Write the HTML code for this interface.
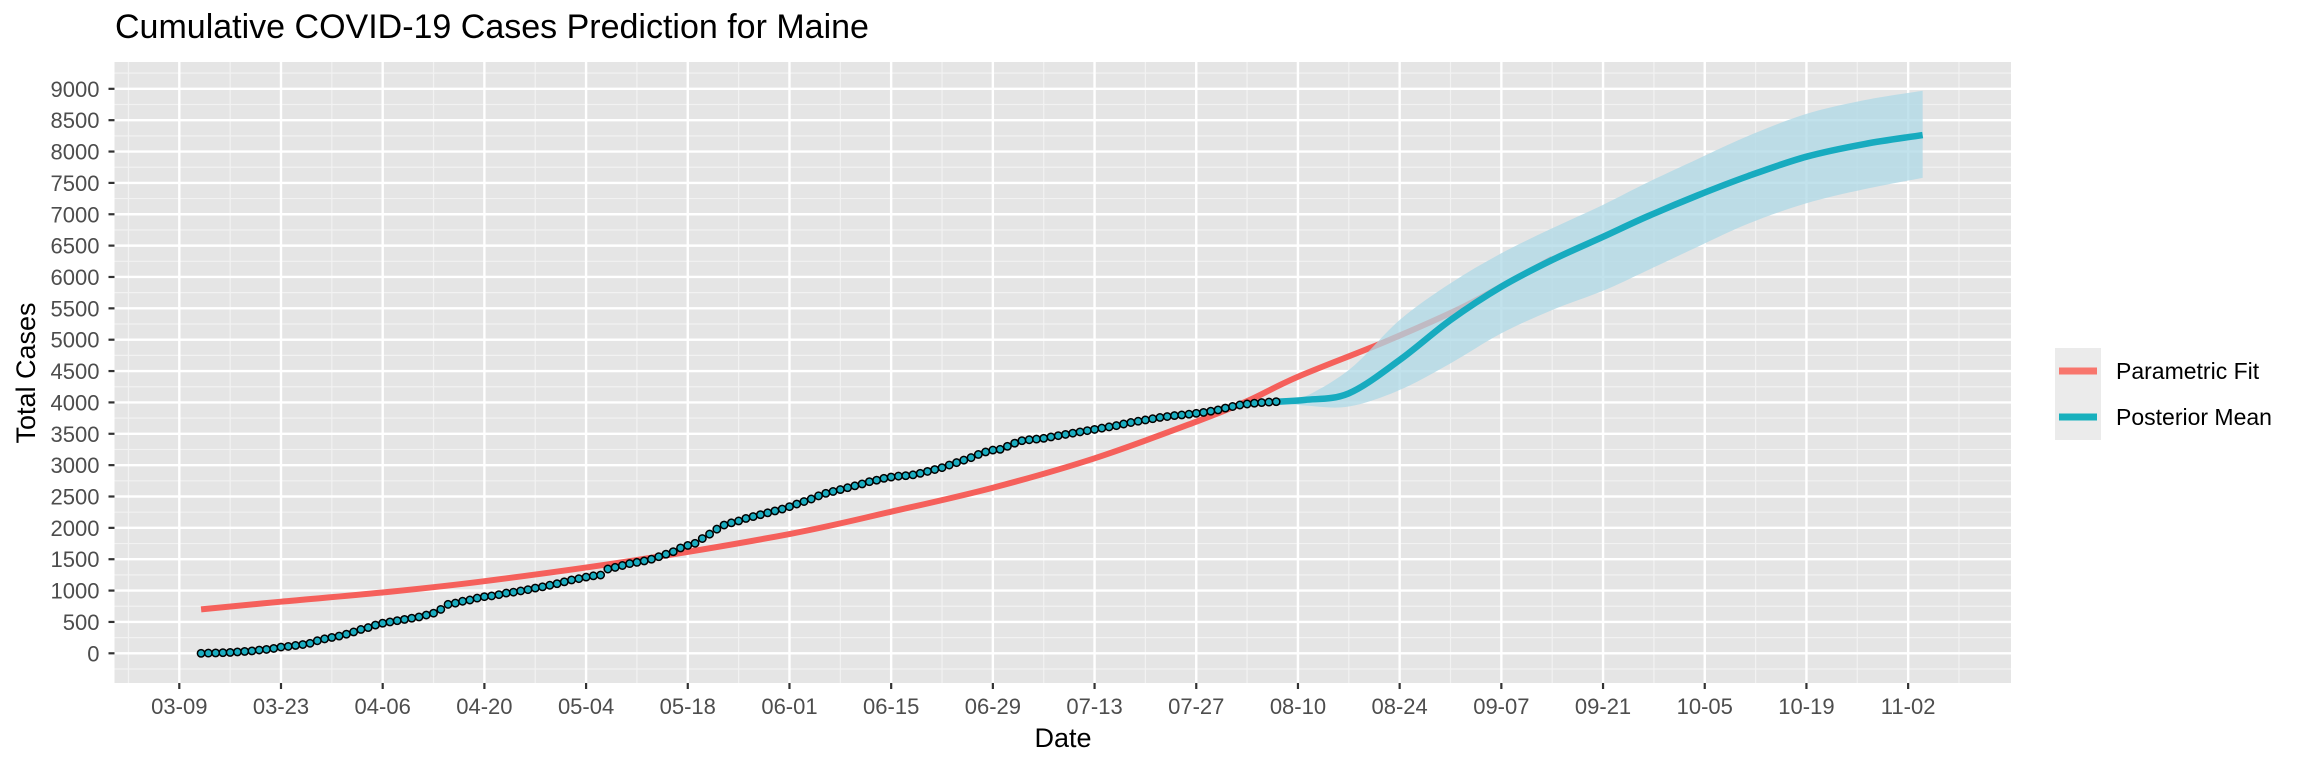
<!DOCTYPE html>
<html><head><meta charset="utf-8"><style>
html,body{margin:0;padding:0;background:#fff;}
svg{display:block;font-family:"Liberation Sans",Arial,sans-serif;}
</style></head><body>
<svg id="chart" width="2304" height="768" viewBox="0 0 2304 768" xmlns="http://www.w3.org/2000/svg">
<text x="115" y="38" font-size="34" fill="#000">Cumulative COVID-19 Cases Prediction for Maine</text>
<rect x="114.5" y="62" width="1896.5" height="621" fill="#e5e5e5"/>
<g id="grid"></g>
<g id="series"></g>
<g id="axes"></g>
<text x="1063" y="747" font-size="27" text-anchor="middle" fill="#000">Date</text>
<text transform="translate(35,373) rotate(-90)" font-size="27" text-anchor="middle" fill="#000">Total Cases</text>
<g>
<rect x="2055" y="348" width="46" height="92" fill="#ebebeb"/>
<line x1="2059" x2="2097" y1="371" y2="371" stroke="#F8766D" stroke-width="7"/>
<line x1="2059" x2="2097" y1="417" y2="417" stroke="#17b0bd" stroke-width="7"/>
<text x="2116" y="379" font-size="23" fill="#000">Parametric Fit</text>
<text x="2116" y="425" font-size="23" fill="#000">Posterior Mean</text>
</g>
</svg>
<script>
// Data (days since 03-09)
const xTickLabels = ["03-09","03-23","04-06","04-20","05-04","05-18","06-01","06-15","06-29","07-13","07-27","08-10","08-24","09-07","09-21","10-05","10-19","11-02"];
const yTickValues = [0,500,1000,1500,2000,2500,3000,3500,4000,4500,5000,5500,6000,6500,7000,7500,8000,8500,9000];
const obsStartDay = 3;
const observed = [0,3,6,10,14,22,30,38,52,62,78,100,
110,125,140,160,200,230,253,275,305,340,380,410,450,480,
500,520,540,560,580,610,640,700,780,800,830,850,880,903,
915,935,960,975,995,1015,1040,1060,1085,1110,1140,1170,1190,1215,
1235,1248,1344,1370,1400,1430,1450,1472,1500,1540,1580,1620,1680,1720,
1754,1830,1900,1980,2045,2080,2110,2150,2180,2210,2240,2270,2300,2338,
2380,2420,2460,2510,2551,2580,2610,2640,2670,2700,2736,2760,2790,2810,
2825,2832,2845,2870,2900,2930,2960,3002,3040,3080,3120,3170,3210,3240,
3252,3300,3350,3390,3405,3415,3428,3450,3470,3490,3510,3530,3550,3570,
3590,3610,3630,3656,3680,3700,3720,3740,3760,3775,3790,3800,3812,3826,
3840,3860,3880,3910,3935,3959,3975,3988,3998,4005,4012];
const fitDays = [3,14,28,42,63,84,98,112,126,140,147,154,166,176,182,189];
const fitValues = [700,823,970,1150,1488,1902,2258,2640,3109,3693,4020,4410,4968,5480,5850,6290];
const meanDays = [151,155,161,168,175,182,189,196,202,209,216,224,232,240];
const meanValues = [4012,4040,4145,4676,5314,5845,6271,6640,6960,7300,7610,7918,8120,8263];
const upperDays = [151,154,161,168,175,182,189,196,202,209,216,224,232,240];
const upperValues = [4012,4040,4517,5314,5900,6378,6776,7150,7500,7880,8250,8600,8820,8970];
const lowerDays = [151,155,161,168,175,182,189,196,202,209,216,224,232,240];
const lowerValues = [4012,3950,3935,4198,4623,5102,5474,5780,6100,6480,6850,7175,7400,7580];

const NS="http://www.w3.org/2000/svg";
const PL=114.5,PR=2011,PT=62,PB=683;
function xs(d){return 179.3+d*7.264;}
function ys(v){return 653.3-v*0.06272;}
function mk(tag,attrs,parent){const e=document.createElementNS(NS,tag);for(const k in attrs)e.setAttribute(k,attrs[k]);parent.appendChild(e);return e;}
function smooth(pts){
  let d="M"+pts[0][0].toFixed(2)+","+pts[0][1].toFixed(2);
  for(let i=0;i<pts.length-1;i++){
    const p0=pts[Math.max(0,i-1)],p1=pts[i],p2=pts[i+1],p3=pts[Math.min(pts.length-1,i+2)];
    const c1=[p1[0]+(p2[0]-p0[0])/6,p1[1]+(p2[1]-p0[1])/6];
    const c2=[p2[0]-(p3[0]-p1[0])/6,p2[1]-(p3[1]-p1[1])/6];
    d+=" C"+c1[0].toFixed(2)+","+c1[1].toFixed(2)+" "+c2[0].toFixed(2)+","+c2[1].toFixed(2)+" "+p2[0].toFixed(2)+","+p2[1].toFixed(2);
  }
  return d;
}
const grid=document.getElementById('grid'),series=document.getElementById('series'),axes=document.getElementById('axes');
for(let v=-250;v<=9250;v+=500){const y=ys(v);if(y<PT||y>PB)continue;
  const l=mk('line',{x1:PL,x2:PR,y1:y,y2:y,stroke:'#f2f2f2','stroke-width':1.2},grid);
  
  }
for(let d=-7;d<=252;d+=14){const x=xs(d);if(x<PL||x>PR)continue;
  const l=mk('line',{x1:x,x2:x,y1:PT,y2:PB,stroke:'#f2f2f2','stroke-width':1.2},grid);
  
  }
yTickValues.forEach(v=>{const y=ys(v);
  const l=mk('line',{x1:PL,x2:PR,y1:y,y2:y,stroke:'#fff','stroke-width':2.4},grid);
  
  
  const t=mk('line',{x1:PL-6,x2:PL,y1:y,y2:y,stroke:'#333','stroke-width':2.2},axes);
  
  
  const tx=mk('text',{x:99.5,y:y+8,'font-size':22,'text-anchor':'end',fill:'#4d4d4d'},axes);
  tx.textContent=v;
  
  });
xTickLabels.forEach((lab,i)=>{const x=xs(i*14);
  const l=mk('line',{x1:x,x2:x,y1:PT,y2:PB,stroke:'#fff','stroke-width':2.4},grid);
  
  
  const t=mk('line',{x1:x,x2:x,y1:PB,y2:PB+6,stroke:'#333','stroke-width':2.2},axes);
  
  
  const tx=mk('text',{x:x,y:714,'font-size':22,'text-anchor':'middle',fill:'#4d4d4d'},axes);
  tx.textContent=lab;
  
  });
const fit=mk('path',{d:smooth(fitDays.map((d,i)=>[xs(d),ys(fitValues[i])])),fill:'none',stroke:'#F5605B','stroke-width':6},series);


const up=upperDays.map((d,i)=>[xs(d),ys(upperValues[i])]);
const lo=lowerDays.map((d,i)=>[xs(d),ys(lowerValues[i])]).reverse();
let bd=smooth(up)+" L"+lo[0][0]+","+lo[0][1]+" "+smooth(lo).slice(1)+" Z";
const band=mk('path',{d:bd,fill:'#add8e6','fill-opacity':0.75,stroke:'none'},series);


const mean=mk('path',{d:smooth(meanDays.map((d,i)=>[xs(d),ys(meanValues[i])])),fill:'none',stroke:'#17abbf','stroke-width':6.5},series);


observed.forEach((v,i)=>{
  const c=mk('circle',{cx:xs(obsStartDay+i),cy:ys(v),r:3.7,fill:'#1aadc0',stroke:'#000','stroke-width':1.5},series);
  
  
});
</script>
</body></html>
